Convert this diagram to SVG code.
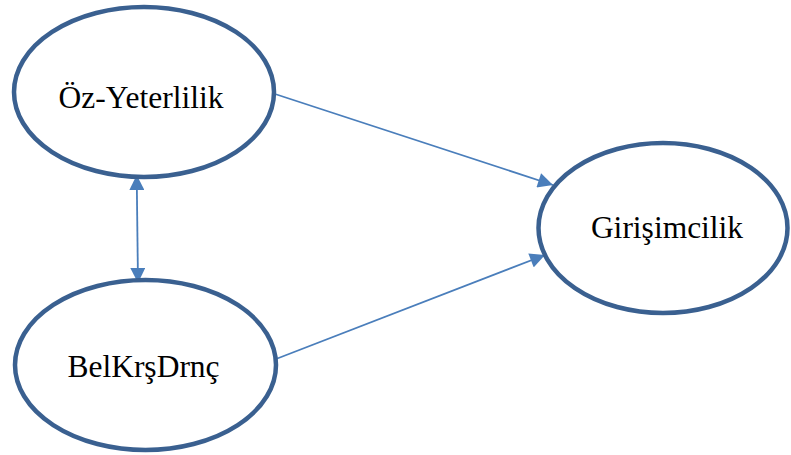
<svg xmlns="http://www.w3.org/2000/svg" width="791" height="455" viewBox="0 0 791 455">
<style>
.node ellipse{fill:#fff;stroke:#3a6090;stroke-width:4.5}
.node text{font-family:"Liberation Serif","Times New Roman",serif;font-size:31.5px;fill:#000;text-anchor:middle}
.edge{stroke:#4a7ebb;stroke-width:1.8;fill:none}
</style>
<defs>
<marker id="ah" viewBox="0 0 10 10" refX="10" refY="5" markerWidth="16" markerHeight="15" markerUnits="userSpaceOnUse" orient="auto-start-reverse">
<path d="M0,0 L10,5 L0,10 z" fill="#4a7ebb"/>
</marker>
</defs>
<rect width="791" height="455" fill="#fff"/>
<g id="connectors">
<line class="edge" x1="275" y1="94" x2="553" y2="185" marker-end="url(#ah)"/>
<line class="edge" x1="276" y1="359" x2="545" y2="255" marker-end="url(#ah)"/>
<line class="edge" x1="136.7" y1="175" x2="138" y2="283" marker-start="url(#ah)" marker-end="url(#ah)"/>
</g>
<g id="oz" class="node">
<ellipse cx="144" cy="92" rx="130" ry="85"/>
<text x="141" y="108">Öz-Yeterlilik</text>
</g>
<g id="bel" class="node">
<ellipse cx="145.5" cy="365" rx="130.5" ry="85"/>
<text x="143.5" y="377">BelKrşDrnç</text>
</g>
<g id="gir" class="node">
<ellipse cx="663" cy="228" rx="124.5" ry="85"/>
<text x="667" y="238">Girişimcilik</text>
</g>
</svg>
